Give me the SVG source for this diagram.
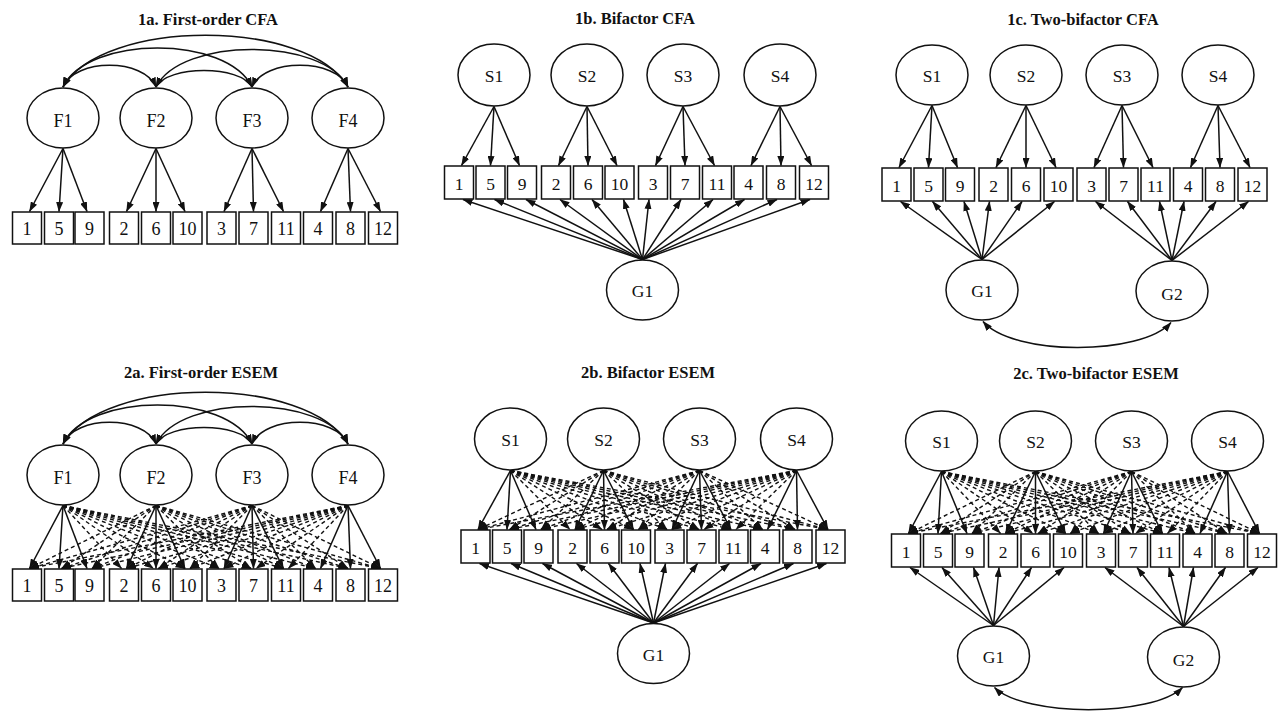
<svg xmlns="http://www.w3.org/2000/svg" width="1280" height="711" viewBox="0 0 1280 711">
<defs>
<style>
.title{font-family:"Liberation Serif","Times New Roman",serif;font-weight:bold;font-size:16.5px;text-anchor:middle;fill:#111}
.lab{font-family:"Liberation Serif","Times New Roman",serif;font-size:17.5px;text-anchor:middle;fill:#111}
.labA{font-family:"Liberation Serif","Times New Roman",serif;font-size:18px;text-anchor:middle;fill:#111}
ellipse,rect.box{fill:#fff;stroke:#111;stroke-width:1.5}
.s{stroke:#111;stroke-width:1.5;fill:none}
.d{stroke:#111;stroke-width:1.4;fill:none;stroke-dasharray:4 3}
.arc{stroke:#111;stroke-width:1.5;fill:none}
</style>
<marker id="ah" viewBox="0 0 10 7" refX="9.5" refY="3.5" markerWidth="10" markerHeight="7" markerUnits="userSpaceOnUse" orient="auto"><path d="M0,0 L10,3.5 L0,7 z" fill="#111"/></marker>
<marker id="ahs" viewBox="0 0 10 7" refX="9.5" refY="3.5" markerWidth="10" markerHeight="7" markerUnits="userSpaceOnUse" orient="auto-start-reverse"><path d="M0,0 L10,3.5 L0,7 z" fill="#111"/></marker>
</defs>
<rect width="1280" height="711" fill="#fff"/>

<!-- ===== 1a ===== -->
<g id="panel-1a">
<text class="title" x="208" y="25">1a. First-order CFA</text>
<g id="conn-1a" marker-end="url(#ah)">
<path class="arc" marker-start="url(#ahs)" d="M63,87 C103,18 308,18 348,87"/>
<path class="arc" marker-start="url(#ahs)" d="M63,87 C88,35 227,35 252,87"/>
<path class="arc" marker-start="url(#ahs)" d="M156,87 C181,37 323,37 348,87"/>
<path class="arc" marker-start="url(#ahs)" d="M63,87 C75,58 144,58 156,87"/>
<path class="arc" marker-start="url(#ahs)" d="M156,87 C168,65 240,65 252,87"/>
<path class="arc" marker-start="url(#ahs)" d="M252,87 C264,58 336,58 348,87"/>
<line class="s" x1="63" y1="148.5" x2="29.5" y2="211.5"/><line class="s" x1="63" y1="148.5" x2="59" y2="211.5"/><line class="s" x1="63" y1="148.5" x2="87" y2="211.5"/>
<line class="s" x1="156" y1="148.5" x2="126.5" y2="211.5"/><line class="s" x1="156" y1="148.5" x2="156" y2="211.5"/><line class="s" x1="156" y1="148.5" x2="185" y2="211.5"/>
<line class="s" x1="252" y1="148.5" x2="224" y2="211.5"/><line class="s" x1="252" y1="148.5" x2="253.5" y2="211.5"/><line class="s" x1="252" y1="148.5" x2="283.5" y2="211.5"/>
<line class="s" x1="348" y1="148.5" x2="320.5" y2="211.5"/><line class="s" x1="348" y1="148.5" x2="350.5" y2="211.5"/><line class="s" x1="348" y1="148.5" x2="380.5" y2="211.5"/>
</g>
<g id="n1a-F1"><ellipse cx="63" cy="118" rx="36" ry="30"/><text class="labA" x="63" y="127">F1</text></g>
<g id="n1a-F2"><ellipse cx="156" cy="118" rx="36" ry="30"/><text class="labA" x="156" y="127">F2</text></g>
<g id="n1a-F3"><ellipse cx="252" cy="118" rx="36" ry="30"/><text class="labA" x="252" y="127">F3</text></g>
<g id="n1a-F4"><ellipse cx="348" cy="118" rx="36" ry="30"/><text class="labA" x="348" y="127">F4</text></g>
<g id="n1a-i1"><rect class="box" x="12.5" y="212" width="29" height="32"/><text class="labA" x="27" y="235">1</text></g>
<g id="n1a-i5"><rect class="box" x="44.5" y="212" width="29" height="32"/><text class="labA" x="59" y="235">5</text></g>
<g id="n1a-i9"><rect class="box" x="75" y="212" width="29" height="32"/><text class="labA" x="89.5" y="235">9</text></g>
<g id="n1a-i2"><rect class="box" x="109.5" y="212" width="29" height="32"/><text class="labA" x="124" y="235">2</text></g>
<g id="n1a-i6"><rect class="box" x="141.5" y="212" width="29" height="32"/><text class="labA" x="156" y="235">6</text></g>
<g id="n1a-i10"><rect class="box" x="173" y="212" width="29" height="32"/><text class="labA" x="187.5" y="235">10</text></g>
<g id="n1a-i3"><rect class="box" x="207" y="212" width="29" height="32"/><text class="labA" x="221.5" y="235">3</text></g>
<g id="n1a-i7"><rect class="box" x="239" y="212" width="29" height="32"/><text class="labA" x="253.5" y="235">7</text></g>
<g id="n1a-i11"><rect class="box" x="271.5" y="212" width="29" height="32"/><text class="labA" x="286" y="235">11</text></g>
<g id="n1a-i4"><rect class="box" x="303.5" y="212" width="29" height="32"/><text class="labA" x="318" y="235">4</text></g>
<g id="n1a-i8"><rect class="box" x="336" y="212" width="29" height="32"/><text class="labA" x="350.5" y="235">8</text></g>
<g id="n1a-i12"><rect class="box" x="368.5" y="212" width="29" height="32"/><text class="labA" x="383" y="235">12</text></g>
</g>

<!-- ===== 2a ===== -->
<g id="panel-2a" transform="translate(0,357)">
<text class="title" x="201" y="21">2a. First-order ESEM</text>
<g id="conn-2a" marker-end="url(#ah)">
<path class="arc" marker-start="url(#ahs)" d="M63,87 C103,18 308,18 348,87"/>
<path class="arc" marker-start="url(#ahs)" d="M63,87 C88,35 227,35 252,87"/>
<path class="arc" marker-start="url(#ahs)" d="M156,87 C181,37 323,37 348,87"/>
<path class="arc" marker-start="url(#ahs)" d="M63,87 C75,58 144,58 156,87"/>
<path class="arc" marker-start="url(#ahs)" d="M156,87 C168,65 240,65 252,87"/>
<path class="arc" marker-start="url(#ahs)" d="M252,87 C264,58 336,58 348,87"/>
<line class="d" x1="63" y1="148.5" x2="121.5" y2="211.5"/><line class="d" x1="63" y1="148.5" x2="153.5" y2="211.5"/><line class="d" x1="63" y1="148.5" x2="185" y2="211.5"/><line class="d" x1="63" y1="148.5" x2="219" y2="211.5"/><line class="d" x1="63" y1="148.5" x2="251" y2="211.5"/><line class="d" x1="63" y1="148.5" x2="283.5" y2="211.5"/><line class="d" x1="63" y1="148.5" x2="315.5" y2="211.5"/><line class="d" x1="63" y1="148.5" x2="348" y2="211.5"/><line class="d" x1="63" y1="148.5" x2="380.5" y2="211.5"/>
<line class="d" x1="156" y1="148.5" x2="29.5" y2="211.5"/><line class="d" x1="156" y1="148.5" x2="61.5" y2="211.5"/><line class="d" x1="156" y1="148.5" x2="92" y2="211.5"/><line class="d" x1="156" y1="148.5" x2="219" y2="211.5"/><line class="d" x1="156" y1="148.5" x2="251" y2="211.5"/><line class="d" x1="156" y1="148.5" x2="283.5" y2="211.5"/><line class="d" x1="156" y1="148.5" x2="315.5" y2="211.5"/><line class="d" x1="156" y1="148.5" x2="348" y2="211.5"/><line class="d" x1="156" y1="148.5" x2="380.5" y2="211.5"/>
<line class="d" x1="252" y1="148.5" x2="29.5" y2="211.5"/><line class="d" x1="252" y1="148.5" x2="61.5" y2="211.5"/><line class="d" x1="252" y1="148.5" x2="92" y2="211.5"/><line class="d" x1="252" y1="148.5" x2="126.5" y2="211.5"/><line class="d" x1="252" y1="148.5" x2="158.5" y2="211.5"/><line class="d" x1="252" y1="148.5" x2="190" y2="211.5"/><line class="d" x1="252" y1="148.5" x2="315.5" y2="211.5"/><line class="d" x1="252" y1="148.5" x2="348" y2="211.5"/><line class="d" x1="252" y1="148.5" x2="380.5" y2="211.5"/>
<line class="d" x1="348" y1="148.5" x2="29.5" y2="211.5"/><line class="d" x1="348" y1="148.5" x2="61.5" y2="211.5"/><line class="d" x1="348" y1="148.5" x2="92" y2="211.5"/><line class="d" x1="348" y1="148.5" x2="126.5" y2="211.5"/><line class="d" x1="348" y1="148.5" x2="158.5" y2="211.5"/><line class="d" x1="348" y1="148.5" x2="190" y2="211.5"/><line class="d" x1="348" y1="148.5" x2="224" y2="211.5"/><line class="d" x1="348" y1="148.5" x2="256" y2="211.5"/><line class="d" x1="348" y1="148.5" x2="288.5" y2="211.5"/>
<line class="s" x1="63" y1="148.5" x2="29.5" y2="211.5"/><line class="s" x1="63" y1="148.5" x2="59" y2="211.5"/><line class="s" x1="63" y1="148.5" x2="87" y2="211.5"/>
<line class="s" x1="156" y1="148.5" x2="126.5" y2="211.5"/><line class="s" x1="156" y1="148.5" x2="156" y2="211.5"/><line class="s" x1="156" y1="148.5" x2="185" y2="211.5"/>
<line class="s" x1="252" y1="148.5" x2="224" y2="211.5"/><line class="s" x1="252" y1="148.5" x2="253.5" y2="211.5"/><line class="s" x1="252" y1="148.5" x2="283.5" y2="211.5"/>
<line class="s" x1="348" y1="148.5" x2="320.5" y2="211.5"/><line class="s" x1="348" y1="148.5" x2="350.5" y2="211.5"/><line class="s" x1="348" y1="148.5" x2="380.5" y2="211.5"/>
</g>
<g id="n2a-F1"><ellipse cx="63" cy="118" rx="36" ry="30"/><text class="labA" x="63" y="127">F1</text></g>
<g id="n2a-F2"><ellipse cx="156" cy="118" rx="36" ry="30"/><text class="labA" x="156" y="127">F2</text></g>
<g id="n2a-F3"><ellipse cx="252" cy="118" rx="36" ry="30"/><text class="labA" x="252" y="127">F3</text></g>
<g id="n2a-F4"><ellipse cx="348" cy="118" rx="36" ry="30"/><text class="labA" x="348" y="127">F4</text></g>
<g id="n2a-i1"><rect class="box" x="12.5" y="212" width="29" height="32"/><text class="labA" x="27" y="235">1</text></g>
<g id="n2a-i5"><rect class="box" x="44.5" y="212" width="29" height="32"/><text class="labA" x="59" y="235">5</text></g>
<g id="n2a-i9"><rect class="box" x="75" y="212" width="29" height="32"/><text class="labA" x="89.5" y="235">9</text></g>
<g id="n2a-i2"><rect class="box" x="109.5" y="212" width="29" height="32"/><text class="labA" x="124" y="235">2</text></g>
<g id="n2a-i6"><rect class="box" x="141.5" y="212" width="29" height="32"/><text class="labA" x="156" y="235">6</text></g>
<g id="n2a-i10"><rect class="box" x="173" y="212" width="29" height="32"/><text class="labA" x="187.5" y="235">10</text></g>
<g id="n2a-i3"><rect class="box" x="207" y="212" width="29" height="32"/><text class="labA" x="221.5" y="235">3</text></g>
<g id="n2a-i7"><rect class="box" x="239" y="212" width="29" height="32"/><text class="labA" x="253.5" y="235">7</text></g>
<g id="n2a-i11"><rect class="box" x="271.5" y="212" width="29" height="32"/><text class="labA" x="286" y="235">11</text></g>
<g id="n2a-i4"><rect class="box" x="303.5" y="212" width="29" height="32"/><text class="labA" x="318" y="235">4</text></g>
<g id="n2a-i8"><rect class="box" x="336" y="212" width="29" height="32"/><text class="labA" x="350.5" y="235">8</text></g>
<g id="n2a-i12"><rect class="box" x="368.5" y="212" width="29" height="32"/><text class="labA" x="383" y="235">12</text></g>
</g>

<!-- ===== 1b ===== -->
<g id="panel-1b">
<text class="title" x="635" y="24">1b. Bifactor CFA</text>
<g id="conn-1b" class="s" marker-end="url(#ah)">
<line x1="494" y1="106.5" x2="461.5" y2="165.5"/><line x1="494" y1="106.5" x2="490.5" y2="165.5"/><line x1="494" y1="106.5" x2="519.5" y2="165.5"/>
<line x1="587" y1="106.5" x2="558.5" y2="165.5"/><line x1="587" y1="106.5" x2="588" y2="165.5"/><line x1="587" y1="106.5" x2="617" y2="165.5"/>
<line x1="683" y1="106.5" x2="655.5" y2="165.5"/><line x1="683" y1="106.5" x2="685" y2="165.5"/><line x1="683" y1="106.5" x2="714.5" y2="165.5"/>
<line x1="780" y1="106.5" x2="751" y2="165.5"/><line x1="780" y1="106.5" x2="781" y2="165.5"/><line x1="780" y1="106.5" x2="811.5" y2="165.5"/>
<line x1="642.5" y1="259.5" x2="463" y2="199.5"/><line x1="642.5" y1="259.5" x2="494.5" y2="199.5"/><line x1="642.5" y1="259.5" x2="526" y2="199.5"/><line x1="642.5" y1="259.5" x2="560" y2="199.5"/><line x1="642.5" y1="259.5" x2="592" y2="199.5"/><line x1="642.5" y1="259.5" x2="623.5" y2="199.5"/><line x1="642.5" y1="259.5" x2="649" y2="199.5"/><line x1="642.5" y1="259.5" x2="681" y2="199.5"/><line x1="642.5" y1="259.5" x2="713" y2="199.5"/><line x1="642.5" y1="259.5" x2="744.5" y2="199.5"/><line x1="642.5" y1="259.5" x2="777" y2="199.5"/><line x1="642.5" y1="259.5" x2="810" y2="199.5"/>
</g>
<g id="n1b-S1"><ellipse cx="494" cy="75" rx="36" ry="31"/><text class="lab" x="494" y="82">S1</text></g>
<g id="n1b-S2"><ellipse cx="587" cy="75" rx="36" ry="31"/><text class="lab" x="587" y="82">S2</text></g>
<g id="n1b-S3"><ellipse cx="683" cy="75" rx="36" ry="31"/><text class="lab" x="683" y="82">S3</text></g>
<g id="n1b-S4"><ellipse cx="780" cy="75" rx="36" ry="31"/><text class="lab" x="780" y="82">S4</text></g>
<g id="n1b-G1"><ellipse cx="642.5" cy="290" rx="36" ry="30"/><text class="lab" x="642.5" y="297">G1</text></g>
<g id="n1b-i1"><rect class="box" x="444.5" y="166" width="29" height="33"/><text class="lab" x="459" y="190">1</text></g>
<g id="n1b-i5"><rect class="box" x="476" y="166" width="29" height="33"/><text class="lab" x="490.5" y="190">5</text></g>
<g id="n1b-i9"><rect class="box" x="507.5" y="166" width="29" height="33"/><text class="lab" x="522" y="190">9</text></g>
<g id="n1b-i2"><rect class="box" x="541.5" y="166" width="29" height="33"/><text class="lab" x="556" y="190">2</text></g>
<g id="n1b-i6"><rect class="box" x="573.5" y="166" width="29" height="33"/><text class="lab" x="588" y="190">6</text></g>
<g id="n1b-i10"><rect class="box" x="605" y="166" width="29" height="33"/><text class="lab" x="619.5" y="190">10</text></g>
<g id="n1b-i3"><rect class="box" x="638.5" y="166" width="29" height="33"/><text class="lab" x="653" y="190">3</text></g>
<g id="n1b-i7"><rect class="box" x="670.5" y="166" width="29" height="33"/><text class="lab" x="685" y="190">7</text></g>
<g id="n1b-i11"><rect class="box" x="702.5" y="166" width="29" height="33"/><text class="lab" x="717" y="190">11</text></g>
<g id="n1b-i4"><rect class="box" x="734" y="166" width="29" height="33"/><text class="lab" x="748.5" y="190">4</text></g>
<g id="n1b-i8"><rect class="box" x="766.5" y="166" width="29" height="33"/><text class="lab" x="781" y="190">8</text></g>
<g id="n1b-i12"><rect class="box" x="799.5" y="166" width="29" height="33"/><text class="lab" x="814" y="190">12</text></g>
</g>

<!-- ===== 2b ===== -->
<g id="panel-2b" transform="translate(16.5,364)">
<text class="title" x="631.5" y="14">2b. Bifactor ESEM</text>
<g id="conn-2b" marker-end="url(#ah)">
<g class="d">
<line x1="494" y1="106.5" x2="553.5" y2="165.5"/><line x1="494" y1="106.5" x2="585.5" y2="165.5"/><line x1="494" y1="106.5" x2="617" y2="165.5"/><line x1="494" y1="106.5" x2="650.5" y2="165.5"/><line x1="494" y1="106.5" x2="682.5" y2="165.5"/><line x1="494" y1="106.5" x2="714.5" y2="165.5"/><line x1="494" y1="106.5" x2="746" y2="165.5"/><line x1="494" y1="106.5" x2="778.5" y2="165.5"/><line x1="494" y1="106.5" x2="811.5" y2="165.5"/>
<line x1="587" y1="106.5" x2="461.5" y2="165.5"/><line x1="587" y1="106.5" x2="493" y2="165.5"/><line x1="587" y1="106.5" x2="524.5" y2="165.5"/><line x1="587" y1="106.5" x2="650.5" y2="165.5"/><line x1="587" y1="106.5" x2="682.5" y2="165.5"/><line x1="587" y1="106.5" x2="714.5" y2="165.5"/><line x1="587" y1="106.5" x2="746" y2="165.5"/><line x1="587" y1="106.5" x2="778.5" y2="165.5"/><line x1="587" y1="106.5" x2="811.5" y2="165.5"/>
<line x1="683" y1="106.5" x2="461.5" y2="165.5"/><line x1="683" y1="106.5" x2="493" y2="165.5"/><line x1="683" y1="106.5" x2="524.5" y2="165.5"/><line x1="683" y1="106.5" x2="558.5" y2="165.5"/><line x1="683" y1="106.5" x2="590.5" y2="165.5"/><line x1="683" y1="106.5" x2="622" y2="165.5"/><line x1="683" y1="106.5" x2="746" y2="165.5"/><line x1="683" y1="106.5" x2="778.5" y2="165.5"/><line x1="683" y1="106.5" x2="811.5" y2="165.5"/>
<line x1="780" y1="106.5" x2="461.5" y2="165.5"/><line x1="780" y1="106.5" x2="493" y2="165.5"/><line x1="780" y1="106.5" x2="524.5" y2="165.5"/><line x1="780" y1="106.5" x2="558.5" y2="165.5"/><line x1="780" y1="106.5" x2="590.5" y2="165.5"/><line x1="780" y1="106.5" x2="622" y2="165.5"/><line x1="780" y1="106.5" x2="655.5" y2="165.5"/><line x1="780" y1="106.5" x2="687.5" y2="165.5"/><line x1="780" y1="106.5" x2="719.5" y2="165.5"/>
</g>
<g class="s">
<line x1="494" y1="106.5" x2="461.5" y2="165.5"/><line x1="494" y1="106.5" x2="490.5" y2="165.5"/><line x1="494" y1="106.5" x2="519.5" y2="165.5"/>
<line x1="587" y1="106.5" x2="558.5" y2="165.5"/><line x1="587" y1="106.5" x2="588" y2="165.5"/><line x1="587" y1="106.5" x2="617" y2="165.5"/>
<line x1="683" y1="106.5" x2="655.5" y2="165.5"/><line x1="683" y1="106.5" x2="685" y2="165.5"/><line x1="683" y1="106.5" x2="714.5" y2="165.5"/>
<line x1="780" y1="106.5" x2="751" y2="165.5"/><line x1="780" y1="106.5" x2="781" y2="165.5"/><line x1="780" y1="106.5" x2="811.5" y2="165.5"/>
<line x1="637" y1="259" x2="463" y2="199.5"/><line x1="637" y1="259" x2="494.5" y2="199.5"/><line x1="637" y1="259" x2="526" y2="199.5"/><line x1="637" y1="259" x2="560" y2="199.5"/><line x1="637" y1="259" x2="592" y2="199.5"/><line x1="637" y1="259" x2="623.5" y2="199.5"/><line x1="637" y1="259" x2="649" y2="199.5"/><line x1="637" y1="259" x2="681" y2="199.5"/><line x1="637" y1="259" x2="713" y2="199.5"/><line x1="637" y1="259" x2="744.5" y2="199.5"/><line x1="637" y1="259" x2="777" y2="199.5"/><line x1="637" y1="259" x2="810" y2="199.5"/>
</g>
</g>
<g id="n2b-S1"><ellipse cx="494" cy="75" rx="36" ry="31"/><text class="lab" x="494" y="82">S1</text></g>
<g id="n2b-S2"><ellipse cx="587" cy="75" rx="36" ry="31"/><text class="lab" x="587" y="82">S2</text></g>
<g id="n2b-S3"><ellipse cx="683" cy="75" rx="36" ry="31"/><text class="lab" x="683" y="82">S3</text></g>
<g id="n2b-S4"><ellipse cx="780" cy="75" rx="36" ry="31"/><text class="lab" x="780" y="82">S4</text></g>
<g id="n2b-G1"><ellipse cx="637" cy="289.5" rx="36" ry="30"/><text class="lab" x="637" y="296.5">G1</text></g>
<g id="n2b-i1"><rect class="box" x="444.5" y="166" width="29" height="33"/><text class="lab" x="459" y="190">1</text></g>
<g id="n2b-i5"><rect class="box" x="476" y="166" width="29" height="33"/><text class="lab" x="490.5" y="190">5</text></g>
<g id="n2b-i9"><rect class="box" x="507.5" y="166" width="29" height="33"/><text class="lab" x="522" y="190">9</text></g>
<g id="n2b-i2"><rect class="box" x="541.5" y="166" width="29" height="33"/><text class="lab" x="556" y="190">2</text></g>
<g id="n2b-i6"><rect class="box" x="573.5" y="166" width="29" height="33"/><text class="lab" x="588" y="190">6</text></g>
<g id="n2b-i10"><rect class="box" x="605" y="166" width="29" height="33"/><text class="lab" x="619.5" y="190">10</text></g>
<g id="n2b-i3"><rect class="box" x="638.5" y="166" width="29" height="33"/><text class="lab" x="653" y="190">3</text></g>
<g id="n2b-i7"><rect class="box" x="670.5" y="166" width="29" height="33"/><text class="lab" x="685" y="190">7</text></g>
<g id="n2b-i11"><rect class="box" x="702.5" y="166" width="29" height="33"/><text class="lab" x="717" y="190">11</text></g>
<g id="n2b-i4"><rect class="box" x="734" y="166" width="29" height="33"/><text class="lab" x="748.5" y="190">4</text></g>
<g id="n2b-i8"><rect class="box" x="766.5" y="166" width="29" height="33"/><text class="lab" x="781" y="190">8</text></g>
<g id="n2b-i12"><rect class="box" x="799.5" y="166" width="29" height="33"/><text class="lab" x="814" y="190">12</text></g>
</g>

<!-- ===== 1c ===== -->
<g id="panel-1c">
<text class="title" x="1083" y="25">1c. Two-bifactor CFA</text>
<g id="conn-1c" marker-end="url(#ah)">
<path class="arc" marker-start="url(#ahs)" d="M983,321.5 C1013,356 1141,356 1171,322.5"/>
<g class="s">
<line x1="932" y1="105.5" x2="899" y2="167.5"/><line x1="932" y1="105.5" x2="928.5" y2="167.5"/><line x1="932" y1="105.5" x2="957.5" y2="167.5"/>
<line x1="1026" y1="105.5" x2="996" y2="167.5"/><line x1="1026" y1="105.5" x2="1026" y2="167.5"/><line x1="1026" y1="105.5" x2="1056" y2="167.5"/>
<line x1="1122" y1="105.5" x2="1094" y2="167.5"/><line x1="1122" y1="105.5" x2="1123.5" y2="167.5"/><line x1="1122" y1="105.5" x2="1153" y2="167.5"/>
<line x1="1218" y1="105.5" x2="1190.5" y2="167.5"/><line x1="1218" y1="105.5" x2="1220" y2="167.5"/><line x1="1218" y1="105.5" x2="1250" y2="167.5"/>
<line x1="982" y1="259.5" x2="900.5" y2="201.5"/><line x1="982" y1="259.5" x2="932.5" y2="201.5"/><line x1="982" y1="259.5" x2="964" y2="201.5"/><line x1="982" y1="259.5" x2="989.5" y2="201.5"/><line x1="982" y1="259.5" x2="1022" y2="201.5"/><line x1="982" y1="259.5" x2="1054.5" y2="201.5"/>
<line x1="1172" y1="260.5" x2="1095.5" y2="201.5"/><line x1="1172" y1="260.5" x2="1127.5" y2="201.5"/><line x1="1172" y1="260.5" x2="1159.5" y2="201.5"/><line x1="1172" y1="260.5" x2="1184" y2="201.5"/><line x1="1172" y1="260.5" x2="1216" y2="201.5"/><line x1="1172" y1="260.5" x2="1248.5" y2="201.5"/>
</g>
</g>
<g id="n1c-S1"><ellipse cx="932" cy="75" rx="36" ry="30"/><text class="lab" x="932" y="82">S1</text></g>
<g id="n1c-S2"><ellipse cx="1026" cy="75" rx="36" ry="30"/><text class="lab" x="1026" y="82">S2</text></g>
<g id="n1c-S3"><ellipse cx="1122" cy="75" rx="36" ry="30"/><text class="lab" x="1122" y="82">S3</text></g>
<g id="n1c-S4"><ellipse cx="1218" cy="75" rx="36" ry="30"/><text class="lab" x="1218" y="82">S4</text></g>
<g id="n1c-G1"><ellipse cx="982" cy="290" rx="36" ry="30"/><text class="lab" x="982" y="297">G1</text></g>
<g id="n1c-G2"><ellipse cx="1172" cy="291" rx="36" ry="30"/><text class="lab" x="1172" y="300">G2</text></g>
<g id="n1c-i1"><rect class="box" x="882" y="168" width="29" height="33"/><text class="lab" x="896.5" y="192">1</text></g>
<g id="n1c-i5"><rect class="box" x="914" y="168" width="29" height="33"/><text class="lab" x="928.5" y="192">5</text></g>
<g id="n1c-i9"><rect class="box" x="945.5" y="168" width="29" height="33"/><text class="lab" x="960" y="192">9</text></g>
<g id="n1c-i2"><rect class="box" x="979" y="168" width="29" height="33"/><text class="lab" x="993.5" y="192">2</text></g>
<g id="n1c-i6"><rect class="box" x="1011.5" y="168" width="29" height="33"/><text class="lab" x="1026" y="192">6</text></g>
<g id="n1c-i10"><rect class="box" x="1044" y="168" width="29" height="33"/><text class="lab" x="1058.5" y="192">10</text></g>
<g id="n1c-i3"><rect class="box" x="1077" y="168" width="29" height="33"/><text class="lab" x="1091.5" y="192">3</text></g>
<g id="n1c-i7"><rect class="box" x="1109" y="168" width="29" height="33"/><text class="lab" x="1123.5" y="192">7</text></g>
<g id="n1c-i11"><rect class="box" x="1141" y="168" width="29" height="33"/><text class="lab" x="1155.5" y="192">11</text></g>
<g id="n1c-i4"><rect class="box" x="1173.5" y="168" width="29" height="33"/><text class="lab" x="1188" y="192">4</text></g>
<g id="n1c-i8"><rect class="box" x="1205.5" y="168" width="29" height="33"/><text class="lab" x="1220" y="192">8</text></g>
<g id="n1c-i12"><rect class="box" x="1238" y="168" width="29" height="33"/><text class="lab" x="1252.5" y="192">12</text></g>
</g>

<!-- ===== 2c ===== -->
<g id="panel-2c" transform="translate(9.5,366)">
<text class="title" x="1086.5" y="13">2c. Two-bifactor ESEM</text>
<g id="conn-2c" marker-end="url(#ah)">
<path class="arc" marker-start="url(#ahs)" d="M985,321.5 C1015,351 1143,351 1173,321.5"/>
<g class="d">
<line x1="932" y1="105.5" x2="991" y2="167.5"/><line x1="932" y1="105.5" x2="1023.5" y2="167.5"/><line x1="932" y1="105.5" x2="1056" y2="167.5"/><line x1="932" y1="105.5" x2="1089" y2="167.5"/><line x1="932" y1="105.5" x2="1121" y2="167.5"/><line x1="932" y1="105.5" x2="1153" y2="167.5"/><line x1="932" y1="105.5" x2="1185.5" y2="167.5"/><line x1="932" y1="105.5" x2="1217.5" y2="167.5"/><line x1="932" y1="105.5" x2="1250" y2="167.5"/>
<line x1="1026" y1="105.5" x2="899" y2="167.5"/><line x1="1026" y1="105.5" x2="931" y2="167.5"/><line x1="1026" y1="105.5" x2="962.5" y2="167.5"/><line x1="1026" y1="105.5" x2="1089" y2="167.5"/><line x1="1026" y1="105.5" x2="1121" y2="167.5"/><line x1="1026" y1="105.5" x2="1153" y2="167.5"/><line x1="1026" y1="105.5" x2="1185.5" y2="167.5"/><line x1="1026" y1="105.5" x2="1217.5" y2="167.5"/><line x1="1026" y1="105.5" x2="1250" y2="167.5"/>
<line x1="1122" y1="105.5" x2="899" y2="167.5"/><line x1="1122" y1="105.5" x2="931" y2="167.5"/><line x1="1122" y1="105.5" x2="962.5" y2="167.5"/><line x1="1122" y1="105.5" x2="996" y2="167.5"/><line x1="1122" y1="105.5" x2="1028.5" y2="167.5"/><line x1="1122" y1="105.5" x2="1061" y2="167.5"/><line x1="1122" y1="105.5" x2="1185.5" y2="167.5"/><line x1="1122" y1="105.5" x2="1217.5" y2="167.5"/><line x1="1122" y1="105.5" x2="1250" y2="167.5"/>
<line x1="1218" y1="105.5" x2="899" y2="167.5"/><line x1="1218" y1="105.5" x2="931" y2="167.5"/><line x1="1218" y1="105.5" x2="962.5" y2="167.5"/><line x1="1218" y1="105.5" x2="996" y2="167.5"/><line x1="1218" y1="105.5" x2="1028.5" y2="167.5"/><line x1="1218" y1="105.5" x2="1061" y2="167.5"/><line x1="1218" y1="105.5" x2="1094" y2="167.5"/><line x1="1218" y1="105.5" x2="1126" y2="167.5"/><line x1="1218" y1="105.5" x2="1158" y2="167.5"/>
</g>
<g class="s">
<line x1="932" y1="105.5" x2="899" y2="167.5"/><line x1="932" y1="105.5" x2="928.5" y2="167.5"/><line x1="932" y1="105.5" x2="957.5" y2="167.5"/>
<line x1="1026" y1="105.5" x2="996" y2="167.5"/><line x1="1026" y1="105.5" x2="1026" y2="167.5"/><line x1="1026" y1="105.5" x2="1056" y2="167.5"/>
<line x1="1122" y1="105.5" x2="1094" y2="167.5"/><line x1="1122" y1="105.5" x2="1123.5" y2="167.5"/><line x1="1122" y1="105.5" x2="1153" y2="167.5"/>
<line x1="1218" y1="105.5" x2="1190.5" y2="167.5"/><line x1="1218" y1="105.5" x2="1220" y2="167.5"/><line x1="1218" y1="105.5" x2="1250" y2="167.5"/>
<line x1="984" y1="259.5" x2="900.5" y2="201.5"/><line x1="984" y1="259.5" x2="932.5" y2="201.5"/><line x1="984" y1="259.5" x2="964" y2="201.5"/><line x1="984" y1="259.5" x2="989.5" y2="201.5"/><line x1="984" y1="259.5" x2="1022" y2="201.5"/><line x1="984" y1="259.5" x2="1054.5" y2="201.5"/>
<line x1="1174" y1="260.5" x2="1095.5" y2="201.5"/><line x1="1174" y1="260.5" x2="1127.5" y2="201.5"/><line x1="1174" y1="260.5" x2="1159.5" y2="201.5"/><line x1="1174" y1="260.5" x2="1184" y2="201.5"/><line x1="1174" y1="260.5" x2="1216" y2="201.5"/><line x1="1174" y1="260.5" x2="1248.5" y2="201.5"/>
</g>
</g>
<g id="n2c-S1"><ellipse cx="932" cy="75" rx="36" ry="30"/><text class="lab" x="932" y="82">S1</text></g>
<g id="n2c-S2"><ellipse cx="1026" cy="75" rx="36" ry="30"/><text class="lab" x="1026" y="82">S2</text></g>
<g id="n2c-S3"><ellipse cx="1122" cy="75" rx="36" ry="30"/><text class="lab" x="1122" y="82">S3</text></g>
<g id="n2c-S4"><ellipse cx="1218" cy="75" rx="36" ry="30"/><text class="lab" x="1218" y="82">S4</text></g>
<g id="n2c-G1"><ellipse cx="984" cy="290" rx="36" ry="30"/><text class="lab" x="984" y="297">G1</text></g>
<g id="n2c-G2"><ellipse cx="1174" cy="291" rx="36" ry="30"/><text class="lab" x="1174" y="300">G2</text></g>
<g id="n2c-i1"><rect class="box" x="882" y="168" width="29" height="33"/><text class="lab" x="896.5" y="192">1</text></g>
<g id="n2c-i5"><rect class="box" x="914" y="168" width="29" height="33"/><text class="lab" x="928.5" y="192">5</text></g>
<g id="n2c-i9"><rect class="box" x="945.5" y="168" width="29" height="33"/><text class="lab" x="960" y="192">9</text></g>
<g id="n2c-i2"><rect class="box" x="979" y="168" width="29" height="33"/><text class="lab" x="993.5" y="192">2</text></g>
<g id="n2c-i6"><rect class="box" x="1011.5" y="168" width="29" height="33"/><text class="lab" x="1026" y="192">6</text></g>
<g id="n2c-i10"><rect class="box" x="1044" y="168" width="29" height="33"/><text class="lab" x="1058.5" y="192">10</text></g>
<g id="n2c-i3"><rect class="box" x="1077" y="168" width="29" height="33"/><text class="lab" x="1091.5" y="192">3</text></g>
<g id="n2c-i7"><rect class="box" x="1109" y="168" width="29" height="33"/><text class="lab" x="1123.5" y="192">7</text></g>
<g id="n2c-i11"><rect class="box" x="1141" y="168" width="29" height="33"/><text class="lab" x="1155.5" y="192">11</text></g>
<g id="n2c-i4"><rect class="box" x="1173.5" y="168" width="29" height="33"/><text class="lab" x="1188" y="192">4</text></g>
<g id="n2c-i8"><rect class="box" x="1205.5" y="168" width="29" height="33"/><text class="lab" x="1220" y="192">8</text></g>
<g id="n2c-i12"><rect class="box" x="1238" y="168" width="29" height="33"/><text class="lab" x="1252.5" y="192">12</text></g>
</g>
</svg>
